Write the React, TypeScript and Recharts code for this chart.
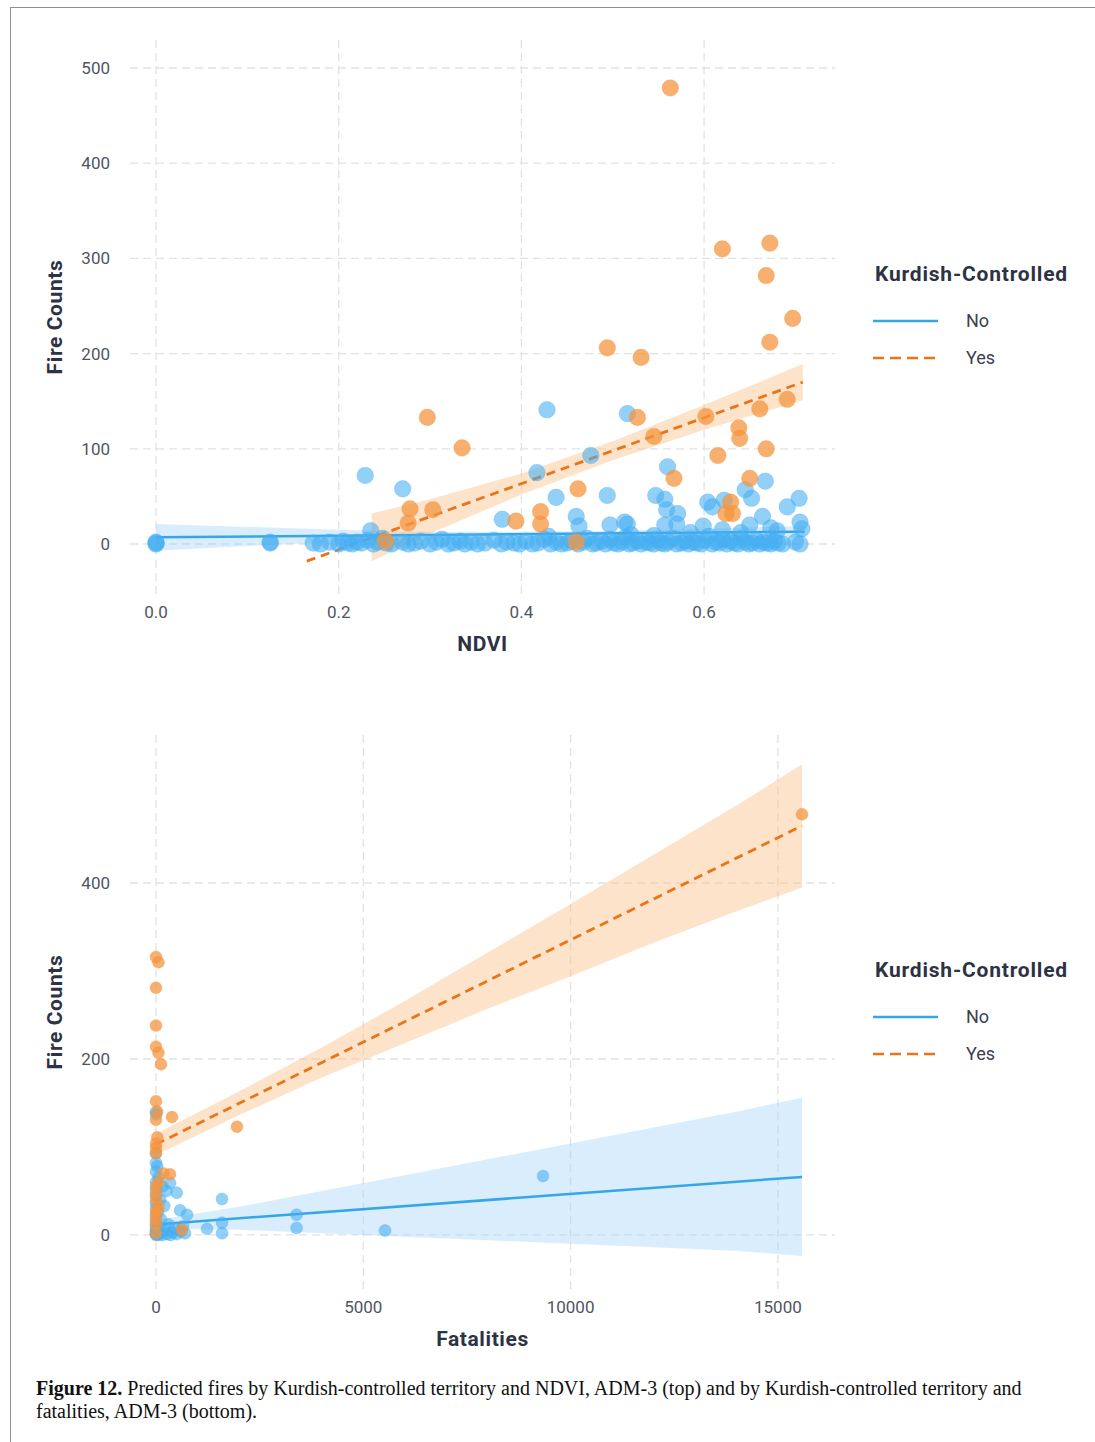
import React from "react";
import { ComposedChart, Scatter, Line, Area, XAxis, YAxis, CartesianGrid, Label } from "recharts";

// colours picked off the figure
const BLUE = "#45AEF2";
const ORANGE = "#F49640";
const ORANGE_LINE = "#EB7418";
const BLUE_LINE = "#35A6E8";
const GRID = "#e2e2e2";
const TITLE_INK = "#2d3244";
const TICK_INK = "#4f5563";
const FONT = "Roboto, 'Noto Sans', sans-serif";

const legendItems = ["No", "Yes"];
const legendTitle = "Kurdish-Controlled";

// ---- top panel: NDVI ----
const ndviTicks = [0, 0.2, 0.4, 0.6];
const fireTicksTop = [0, 100, 200, 300, 400, 500];

// [ndvi, fires], not Kurdish-controlled
const ndviNo: [number, number][] = [
	[0, 2], [0, 0], [0, 1], [0.125, 1], [0.125, 2],
	[0.172, 1], [0.18, 0], [0.19, 2], [0.2, 0], [0.205, 3], [0.21, 1], [0.215, 0], [0.22, 2], [0.225, 1],
	[0.232, 4], [0.238, 0], [0.243, 2], [0.248, 6], [0.252, 1], [0.258, 0], [0.27, 2], [0.276, 0], [0.283, 1],
	[0.29, 3], [0.3, 0], [0.307, 2], [0.313, 5], [0.32, 0], [0.326, 1], [0.333, 3], [0.338, 0], [0.345, 2],
	[0.352, 0], [0.36, 1], [0.37, 4], [0.378, 0], [0.384, 2], [0.392, 1], [0.398, 0], [0.405, 3], [0.412, 0],
	[0.418, 1], [0.425, 5], [0.432, 0], [0.438, 2], [0.444, 0], [0.45, 1], [0.455, 3], [0.462, 0], [0.468, 2],
	[0.472, 6], [0.478, 0], [0.482, 1], [0.488, 3], [0.492, 0], [0.497, 5], [0.501, 1], [0.506, 0], [0.51, 2],
	[0.514, 7], [0.518, 0], [0.522, 1], [0.527, 3], [0.531, 0], [0.536, 2], [0.54, 1], [0.545, 0], [0.549, 4],
	[0.553, 1], [0.557, 0], [0.561, 2], [0.566, 6], [0.57, 0], [0.575, 1], [0.579, 3], [0.583, 0], [0.588, 2],
	[0.592, 1], [0.597, 0], [0.601, 4], [0.605, 8], [0.609, 0], [0.613, 2], [0.617, 1], [0.621, 5], [0.625, 0],
	[0.629, 3], [0.633, 1], [0.637, 0], [0.641, 6], [0.645, 2], [0.649, 0], [0.653, 1], [0.657, 4], [0.661, 0],
	[0.665, 2], [0.669, 1], [0.673, 0], [0.677, 3], [0.681, 1], [0.686, 0], [0.7, 2], [0.705, 0],
	[0.229, 72], [0.27, 58], [0.428, 141], [0.516, 137], [0.476, 93], [0.417, 75], [0.56, 81], [0.438, 49],
	[0.494, 51], [0.547, 51], [0.557, 47], [0.559, 36], [0.571, 32], [0.557, 20], [0.667, 66], [0.645, 57],
	[0.652, 48], [0.622, 46], [0.604, 44], [0.609, 39], [0.704, 48], [0.691, 39], [0.705, 23], [0.707, 16],
	[0.664, 29], [0.379, 26], [0.46, 29], [0.463, 19], [0.497, 20], [0.516, 21], [0.57, 21], [0.599, 19],
	[0.235, 14], [0.513, 23], [0.68, 14], [0.64, 12], [0.62, 15], [0.585, 12], [0.52, 10], [0.43, 8],
	[0.545, 9], [0.65, 20], [0.673, 17],
];

// [ndvi, fires], Kurdish-controlled
const ndviYes: [number, number][] = [
	[0.563, 479], [0.62, 310], [0.672, 316], [0.668, 282], [0.697, 237], [0.672, 212], [0.494, 206],
	[0.531, 196], [0.297, 133], [0.335, 101], [0.527, 133], [0.602, 134], [0.661, 142], [0.691, 152],
	[0.545, 113], [0.638, 122], [0.639, 111], [0.668, 100], [0.615, 93], [0.567, 69], [0.65, 69],
	[0.462, 58], [0.629, 44], [0.624, 32], [0.631, 32], [0.278, 37], [0.303, 36], [0.394, 24],
	[0.421, 34], [0.421, 21], [0.276, 22], [0.251, 3], [0.46, 2],
];

// fitted lines [x, y] and bands [x, lower, upper]
const ndviNoLine: [number, number][] = [[0, 7], [0.71, 13]];
const ndviNoBand: [number, number, number][] = [
	[0, -7, 21], [0.1, -2, 18], [0.2, 2, 15], [0.3, 5, 13], [0.4, 7, 13], [0.5, 8, 14], [0.6, 8, 16], [0.71, 7, 19],
];
const ndviYesLine: [number, number][] = [[0.165, -18], [0.708, 170]];
const ndviYesBand: [number, number, number][] = [
	[0.236, -18, 32], [0.3, 11, 47], [0.4, 52, 74], [0.5, 88, 108], [0.6, 120, 146], [0.708, 151, 189],
];

// ---- bottom panel: fatalities ----
const fatTicks = [0, 5000, 10000, 15000];
const fireTicksBottom = [0, 200, 400];

const fatNo: [number, number][] = [
	[9335, 67], [5524, 5], [3390, 23], [3390, 8], [1592, 41], [1592, 14], [1592, 2], [1230, 7],
	[580, 28], [750, 23], [500, 48], [340, 59], [0, 140], [0, 137], [0, 93], [0, 82], [30, 78], [0, 72],
	[60, 65], [0, 60], [150, 55], [0, 52], [250, 50], [0, 45], [100, 40], [0, 36], [200, 33], [0, 30],
	[50, 26], [0, 22], [120, 18], [0, 15], [300, 12], [0, 10], [80, 8], [0, 6], [200, 5], [0, 4],
	[400, 3], [0, 2], [100, 2], [250, 1], [0, 1], [50, 0], [350, 0], [0, 0], [150, 0], [500, 1],
	[600, 4], [700, 2], [450, 8], [650, 10],
];

const fatYes: [number, number][] = [
	[15582, 478], [0, 316], [60, 310], [0, 281], [0, 238], [0, 214], [60, 207], [120, 194], [0, 152],
	[30, 140], [386, 134], [1953, 123], [30, 111], [0, 104], [0, 99], [0, 93], [180, 70], [338, 69],
	[0, 55], [0, 40], [60, 32], [0, 25], [627, 6], [0, 2], [0, 47], [0, 12], [20, 28], [60, 60],
	[0, 131], [0, 18],
];

const fatNoLine: [number, number][] = [[0, 12], [15582, 66]];
const fatNoBand: [number, number, number][] = [
	[0, 7, 17], [2000, 6, 32], [4000, 2, 50], [6000, -2, 68], [8000, -6, 86], [10000, -10, 104],
	[12000, -14, 122], [14000, -18, 140], [15582, -24, 156],
];
const fatYesLine: [number, number][] = [[0, 103], [15582, 465]];
const fatYesBand: [number, number, number][] = [
	[0, 91, 115], [2000, 136, 163], [4000, 179, 213], [6000, 218, 266], [8000, 257, 321],
	[10000, 294, 376], [12000, 332, 432], [14000, 368, 488], [15582, 395, 535],
];

const pts = (a: [number, number][]) => a.map(([x, y]) => ({ x, y }));
const band = (a: [number, number, number][]) => a.map(([x, lo, hi]) => ({ x, band: [lo, hi] }));

interface PanelProps {
	top: number;
	xTitle: string;
	xDomain: [number, number];
	yDomain: [number, number];
	xTicks: number[];
	yTicks: number[];
	xFmt: (v: number) => string;
	r: number;
	no: [number, number][];
	yes: [number, number][];
	noLine: [number, number][];
	yesLine: [number, number][];
	noBand: [number, number, number][];
	yesBand: [number, number, number][];
}

const tickStyle = { fill: TICK_INK, fontSize: 17, fontFamily: FONT };
const titleStyle = { fill: TITLE_INK, fontSize: 21, fontWeight: 700, fontFamily: FONT, letterSpacing: 0.6 };

function Panel(p: PanelProps) {
	const dot = (color: string, op: number) => (s: any) => (
		<circle cx={s.cx} cy={s.cy} r={p.r} fill={color} fillOpacity={op} stroke={color} strokeOpacity={0.3} strokeWidth={1} />
	);
	return (
		<div style={{ position: "absolute", left: 0, top: p.top }}>
			<ComposedChart width={850} height={680} margin={{ top: 40, right: 15, bottom: 0, left: 50 }}>
				<CartesianGrid stroke={GRID} strokeDasharray="8 5" strokeWidth={1.3} syncWithTicks />
				<XAxis
					type="number"
					dataKey="x"
					domain={p.xDomain}
					ticks={p.xTicks}
					allowDataOverflow
					tickFormatter={p.xFmt}
					tickLine={false}
					axisLine={false}
					height={86}
					tickSize={6}
					tickMargin={6}
					tick={tickStyle}
				>
					<Label value={p.xTitle} position="insideBottom" offset={29} style={titleStyle} />
				</XAxis>
				<YAxis
					type="number"
					dataKey="y"
					domain={p.yDomain}
					ticks={p.yTicks}
					allowDataOverflow
					tickLine={false}
					axisLine={false}
					width={80}
					tickSize={6}
					tickMargin={14}
					tick={tickStyle}
				>
					<Label
						value="Fire Counts"
						angle={-90}
						position="insideLeft"
						offset={5}
						style={{ ...titleStyle, textAnchor: "middle" }}
					/>
				</YAxis>
				<Area data={band(p.noBand)} dataKey="band" type="linear" stroke="none" fill="#9fd3f7" fillOpacity={0.4} dot={false} activeDot={false} isAnimationActive={false} />
				<Area data={band(p.yesBand)} dataKey="band" type="linear" stroke="none" fill="#f9c08a" fillOpacity={0.45} dot={false} activeDot={false} isAnimationActive={false} />
				<Scatter data={pts(p.no)} dataKey="y" shape={dot(BLUE, 0.58)} isAnimationActive={false} />
				<Scatter data={pts(p.yes)} dataKey="y" shape={dot(ORANGE, 0.75)} isAnimationActive={false} />
				<Line data={pts(p.noLine)} dataKey="y" type="linear" stroke={BLUE_LINE} strokeWidth={2.5} dot={false} activeDot={false} isAnimationActive={false} />
				<Line data={pts(p.yesLine)} dataKey="y" type="linear" stroke={ORANGE_LINE} strokeWidth={2.8} strokeDasharray="9 6" dot={false} activeDot={false} isAnimationActive={false} />
			</ComposedChart>
		</div>
	);
}

function Key({ top }: { top: number }) {
	return (
		<>
			<div
				style={{
					position: "absolute",
					left: 875,
					top: top - 13,
					fontFamily: FONT,
					fontSize: 21,
					fontWeight: 700,
					letterSpacing: 0.8,
					color: TITLE_INK,
					lineHeight: "26px",
					whiteSpace: "nowrap",
				}}
			>
				{legendTitle}
			</div>
			{legendItems.map((name, i) => (
				<div key={name} style={{ position: "absolute", left: 873, top: top + 47 + i * 37 - 12, height: 24, width: 160 }}>
					<svg width={66} height={24} style={{ position: "absolute", left: 0, top: 0 }}>
						<line
							x1={0}
							x2={65}
							y1={12}
							y2={12}
							stroke={i === 0 ? BLUE_LINE : ORANGE_LINE}
							strokeWidth={2.5}
							strokeDasharray={i === 0 ? undefined : "11 6"}
						/>
					</svg>
					<span style={{ position: "absolute", left: 93, top: 0, lineHeight: "24px", fontFamily: FONT, fontSize: 18, color: "#3b4050" }}>
						{name}
					</span>
				</div>
			))}
		</>
	);
}

export default function App() {
	return (
		<div style={{ position: "absolute", left: 0, top: 0, width: 1095, height: 1442, background: "#fff", overflow: "hidden" }}>
			<div style={{ position: "absolute", left: 10, top: 7, right: 0, bottom: 0, borderTop: "1px solid #8e8e8e", borderLeft: "1px solid #8e8e8e" }} />
			<Panel
				top={0}
				xTitle="NDVI"
				xDomain={[-0.0285, 0.7433]}
				yDomain={[-52.5, 529.4]}
				xTicks={ndviTicks}
				yTicks={fireTicksTop}
				xFmt={(v) => v.toFixed(1)}
				r={8.3}
				no={ndviNo}
				yes={ndviYes}
				noLine={ndviNoLine}
				yesLine={ndviYesLine}
				noBand={ndviNoBand}
				yesBand={ndviYesBand}
			/>
			<Key top={274} />
			<Panel
				top={695}
				xTitle="Fatalities"
				xDomain={[-627, 16377]}
				yDomain={[-61.4, 568.2]}
				xTicks={fatTicks}
				yTicks={fireTicksBottom}
				xFmt={(v) => String(v)}
				r={6}
				no={fatNo}
				yes={fatYes}
				noLine={fatNoLine}
				yesLine={fatYesLine}
				noBand={fatNoBand}
				yesBand={fatYesBand}
			/>
			<Key top={970} />
			<div
				style={{
					position: "absolute",
					left: 36,
					top: 1377,
					fontFamily: "'Liberation Serif', 'DejaVu Serif', serif",
					fontSize: 20,
					lineHeight: "23px",
					color: "#111",
					whiteSpace: "nowrap",
				}}
			>
				<b>Figure 12.</b> Predicted fires by Kurdish-controlled territory and NDVI, ADM-3 (top) and by Kurdish-controlled territory and
				<br />
				fatalities, ADM-3 (bottom).
			</div>
		</div>
	);
}
